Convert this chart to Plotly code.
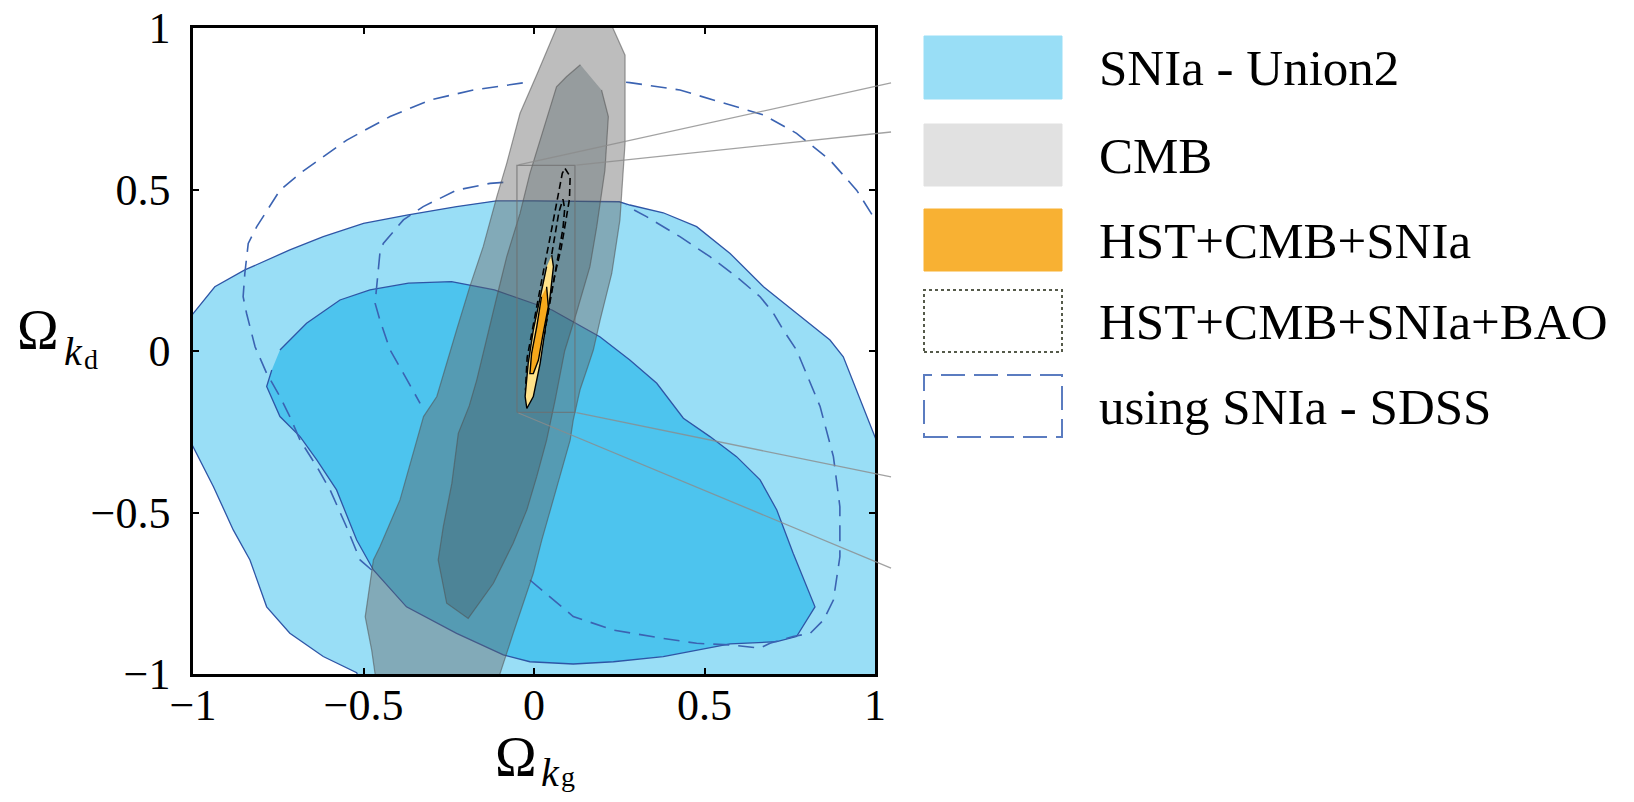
import plotly.graph_objects as go

# ---------------- data ----------------
x_ticks = [-1, -0.5, 0, 0.5, 1]
x_tick_labels = ["\u22121", "\u22120.5", "0", "0.5", "1"]
y_ticks = [-1, -0.5, 0, 0.5, 1]
y_tick_labels = ["\u22121", "\u22120.5", "0", "0.5", "1"]

legend_labels = ["SNIa - Union2", "CMB", "HST+CMB+SNIa", "HST+CMB+SNIa+BAO", "using SNIa - SDSS"]

# SNIa - Union2, 95% region (extends past the frame)
snia_outer_x = [-1.05, -1.0, -0.936, -0.848, -0.716, -0.618, -0.5, -0.373, -0.227, -0.11, 0.0, 0.25, 0.281,
                0.379, 0.477, 0.575, 0.673, 0.77, 0.868, 0.907, 0.946, 0.995, 1.05, 1.05, -0.5, -0.52,
                -0.618, -0.716, -0.784, -0.833, -0.882, -0.94, -1.0, -1.05]
snia_outer_y = [0.05, 0.117, 0.199, 0.251, 0.313, 0.354, 0.395, 0.421, 0.447, 0.465, 0.465, 0.462, 0.452,
                0.428, 0.385, 0.302, 0.199, 0.117, 0.034, -0.018, -0.121, -0.255, -0.4, -1.05, -1.05, -0.996,
                -0.946, -0.874, -0.792, -0.647, -0.554, -0.42, -0.296, -0.2]

# SNIa - Union2, 68% region
snia_inner_x = [-0.745, -0.667, -0.569, -0.481, -0.368, -0.242, -0.116, 0.053, 0.193, 0.281, 0.36, 0.438,
                0.516, 0.594, 0.663, 0.712, 0.76, 0.824, 0.77, 0.712, 0.575, 0.477, 0.379, 0.233, 0.115,
                -0.012, -0.09, -0.227, -0.374, -0.471, -0.52, -0.579, -0.637, -0.686, -0.745, -0.784, -0.769]
snia_inner_y = [0.003, 0.086, 0.158, 0.189, 0.21, 0.215, 0.189, 0.127, 0.044, -0.028, -0.1, -0.208,
                -0.265, -0.327, -0.399, -0.492, -0.626, -0.792, -0.884, -0.9, -0.907, -0.926, -0.946, -0.962,
                -0.969, -0.962, -0.941, -0.874, -0.792, -0.678, -0.585, -0.43, -0.337, -0.265, -0.203, -0.11,
                -0.059]

# SNIa - SDSS (dashed), visible parts only (None = hidden under the CMB band)
sdss_outer_x = [-0.476, -0.51, -0.55, -0.598, -0.637, -0.686, -0.716, -0.745, -0.784, -0.818, -0.843, -0.853,
                -0.848, -0.838, -0.813, -0.745, -0.686, -0.549, -0.422, -0.305, -0.178, -0.02, None,
                0.27, 0.281, 0.428, 0.526, 0.673, 0.77, 0.868, 0.946, 0.995, 1.05]
sdss_outer_y = [-0.678, -0.647, -0.544, -0.43, -0.358, -0.276, -0.203, -0.141, -0.069, 0.013, 0.117, 0.168,
                0.24, 0.333, 0.385, 0.498, 0.55, 0.653, 0.726, 0.777, 0.808, 0.832, None,
                0.832, 0.831, 0.808, 0.777, 0.731, 0.674, 0.591, 0.498, 0.416, 0.33]

sdss_inner_x = [-0.09, -0.129, -0.227, -0.325, -0.383, -0.442, -0.452, -0.461, -0.466, -0.452, -0.422, -0.383,
                -0.334, None,
                -0.012, 0.115, 0.233, 0.379, 0.477, 0.575, 0.663, 0.692, 0.76, 0.81, 0.849, 0.878, 0.897,
                0.897, 0.878, 0.839, 0.77, 0.731, 0.702, 0.663, 0.594, 0.516, 0.428, 0.33, 0.27]
sdss_inner_y = [0.522, 0.519, 0.498, 0.447, 0.406, 0.333, 0.302, 0.199, 0.148, 0.096, 0.003, -0.069,
                -0.162, None,
                -0.709, -0.822, -0.864, -0.89, -0.905, -0.91, -0.92, -0.905, -0.884, -0.874, -0.833, -0.771,
                -0.637, -0.482, -0.327, -0.172, 0.003, 0.065, 0.117, 0.168, 0.23, 0.292, 0.354, 0.416, 0.45]

# CMB, 95% region
cmb_outer_x = [0.05, 0.066, 0.01, -0.041, -0.08, -0.109, -0.149, -0.188, -0.227, -0.256, -0.285, -0.324,
               -0.393, -0.452, -0.471, -0.495, -0.476, -0.466, -0.46, -0.095, -0.1, -0.061, -0.002, 0.023,
               0.057, 0.106, 0.115, 0.135, 0.158, 0.174, 0.194, 0.228, 0.252, 0.267, 0.267, 0.233, 0.21]
cmb_outer_y = [1.05, 1.0, 0.86, 0.736, 0.581, 0.478, 0.323, 0.2, 0.065, -0.038, -0.141, -0.203,
               -0.461, -0.606, -0.647, -0.823, -0.926, -1.0, -1.05, -1.05, -1.0, -0.874, -0.688, -0.585,
               -0.461, -0.276, -0.214, -0.12, -0.048, 0.003, 0.096, 0.24, 0.406, 0.643, 0.916, 1.0, 1.05]

# CMB, 68% region
cmb_inner_x = [0.136, 0.095, 0.066, 0.018, -0.012, -0.041, -0.08, -0.109, -0.139, -0.168, -0.19, -0.222,
               -0.241, -0.266, -0.281, -0.256, -0.193, -0.119, -0.061, -0.021, 0.008, 0.037, 0.062, 0.09,
               0.125, 0.164, 0.184, 0.208, 0.218, 0.198]
cmb_inner_y = [0.886, 0.849, 0.818, 0.653, 0.55, 0.426, 0.292, 0.168, 0.034, -0.09, -0.17, -0.255,
               -0.41, -0.544, -0.647, -0.781, -0.828, -0.719, -0.595, -0.492, -0.389, -0.276, -0.152, 0.0,
               0.12, 0.261, 0.385, 0.56, 0.726, 0.808]

# HST+CMB+SNIa+BAO (dashed black)
bao_outer_x = [0.091, 0.106, 0.104, 0.093, 0.08, 0.062, 0.045, 0.03, 0.012, -0.01, -0.025, -0.02, -0.002,
               0.012, 0.03, 0.045, 0.06, 0.075, 0.083, 0.091]
bao_outer_y = [0.565, 0.54, 0.47, 0.4, 0.32, 0.24, 0.15, 0.05, -0.05, -0.13, -0.12, -0.02, 0.08,
               0.17, 0.26, 0.34, 0.42, 0.5, 0.55, 0.565]
bao_inner_x = [0.085, 0.09, 0.085, 0.072, 0.058, 0.045, 0.03, 0.02, 0.012, 0.02, 0.035, 0.05, 0.062, 0.073,
               0.085]
bao_inner_y = [0.47, 0.44, 0.38, 0.3, 0.22, 0.14, 0.05, 0.0, 0.01, 0.1, 0.19, 0.28, 0.36, 0.43, 0.47]

# HST+CMB+SNIa
hst_outer_x = [0.052, 0.057, 0.047, 0.032, 0.018, -0.002, -0.021, -0.026, -0.017, -0.002, 0.018, 0.037]
hst_outer_y = [0.297, 0.261, 0.168, 0.065, -0.038, -0.141, -0.178, -0.141, -0.038, 0.065, 0.168, 0.261]
hst_inner_x = [0.037, 0.042, 0.027, 0.013, -0.002, -0.012, -0.007, 0.008, 0.022]
hst_inner_y = [0.199, 0.137, 0.055, -0.028, -0.07, -0.07, -0.007, 0.075, 0.168]

# zoom box and its connector lines (to an inset outside the frame)
zoom_box_x = [-0.05, 0.12]
zoom_box_y = [-0.19, 0.575]
connector_start_x = [-0.05, 0.12, 0.12, -0.05]
connector_start_y = [0.575, 0.575, -0.19, -0.19]
connector_end_x = [1.047, 1.047, 1.047, 1.047]
connector_end_y = [0.83, 0.678, -0.39, -0.672]

# ---------------- styling ----------------
FONT = "Liberation Serif"
OFF = 8                      # page body margin offset of the figure div
W, H = 1634 - 2 * OFF, 802 - 2 * OFF
PL, PR, PT, PB = 193, 875, 28, 674  # plot area in screen pixels


def pxx(px):
    return (px - PL) / (PR - PL)


def pxy(py):
    return (PB - py) / (PB - PT)


LIGHT_BLUE = "#99DEF6"
MID_BLUE = "#4DC4EE"
EDGE_BLUE = "#2E55A6"
GRAY_FILL = "rgba(97,97,97,0.42)"
GRAY_FILL2 = "rgba(60,78,86,0.30)"
GRAY_EDGE = "rgba(80,80,80,0.55)"
DASH_BLUE = "#3B63B2"

fig = go.Figure()


def poly(x, y, fill, edge, width=1.3, dash=None):
    fig.add_trace(go.Scatter(
        x=x, y=y, mode="lines", fill="toself", fillcolor=fill,
        line=dict(color=edge, width=width, dash=dash),
        hoverinfo="skip", showlegend=False))


poly(snia_outer_x, snia_outer_y, LIGHT_BLUE, EDGE_BLUE)
poly(snia_inner_x, snia_inner_y, MID_BLUE, EDGE_BLUE)

for xs, ys in [(sdss_outer_x, sdss_outer_y), (sdss_inner_x, sdss_inner_y)]:
    fig.add_trace(go.Scatter(x=xs, y=ys, mode="lines", connectgaps=False,
                             line=dict(color=DASH_BLUE, width=1.6, dash="16px,9px"),
                             hoverinfo="skip", showlegend=False))

poly(cmb_outer_x, cmb_outer_y, GRAY_FILL, GRAY_EDGE, 1.2)
poly(cmb_inner_x, cmb_inner_y, GRAY_FILL2, GRAY_EDGE, 1.2)

# zoom box
fig.add_trace(go.Scatter(
    x=[zoom_box_x[0], zoom_box_x[1], zoom_box_x[1], zoom_box_x[0], zoom_box_x[0]],
    y=[zoom_box_y[0], zoom_box_y[0], zoom_box_y[1], zoom_box_y[1], zoom_box_y[0]],
    mode="lines", line=dict(color="rgba(110,110,110,0.7)", width=1.3),
    hoverinfo="skip", showlegend=False))

for xs, ys in [(bao_outer_x, bao_outer_y), (bao_inner_x, bao_inner_y)]:
    fig.add_trace(go.Scatter(x=xs, y=ys, mode="lines",
                             line=dict(color="black", width=1.6, dash="7px,4px"),
                             hoverinfo="skip", showlegend=False))

poly(hst_outer_x, hst_outer_y, "#FFE28A", "black", 1.4)
poly(hst_inner_x, hst_inner_y, "#F7A81B", "black", 1.4)

annotations = []
# connector lines drawn as plain arrows (tail at box corner, head outside frame)
for sx, sy, ex, ey in zip(connector_start_x, connector_start_y, connector_end_x, connector_end_y):
    annotations.append(dict(x=ex, y=ey, xref="x", yref="y", ax=sx, ay=sy, axref="x", ayref="y",
                            text="", showarrow=True, arrowhead=0, arrowwidth=1.3,
                            arrowcolor="rgba(140,140,140,0.8)", standoff=0, startstandoff=0))


def label(text, cx, cy, size):
    annotations.append(dict(text=text, x=pxx(cx), y=pxy(cy), xref="paper", yref="paper", showarrow=False,
                            font=dict(family=FONT, size=size, color="black"),
                            xanchor="center", yanchor="middle"))


# axis titles (Omega with nested subscripts)
label("\u03a9", 38, 330, 56)
label("<i>k</i>", 74, 351, 40)
label("d", 91, 360, 28)
label("\u03a9", 516, 757, 56)
label("<i>k</i>", 550, 772, 40)
label("g", 568, 776, 28)

# legend (manual, large swatches)
rows = [(36, 99), (124, 186), (209, 271), (290, 352), (375, 437)]
sw_x0, sw_x1 = 924, 1062
shapes = []
swatch_styles = [
    dict(fillcolor="#99DEF6", line=dict(color="#99DEF6", width=1)),
    dict(fillcolor="#E1E1E1", line=dict(color="#E1E1E1", width=1)),
    dict(fillcolor="#F8B133", line=dict(color="#F8B133", width=1)),
    dict(fillcolor="rgba(0,0,0,0)", line=dict(color="#555a4a", width=2, dash="dot")),
    dict(fillcolor="rgba(0,0,0,0)", line=dict(color="#5B7CC0", width=2, dash="24px,9px")),
]
for (r0, r1), st, lab in zip(rows, swatch_styles, legend_labels):
    shapes.append(dict(type="rect", xref="paper", yref="paper",
                       x0=pxx(sw_x0), x1=pxx(sw_x1), y0=pxy(r1), y1=pxy(r0), layer="above", **st))
    annotations.append(dict(text=lab, x=pxx(1097), y=pxy((r0 + r1) / 2 + 1), xref="paper", yref="paper",
                            showarrow=False, xanchor="left", yanchor="middle",
                            font=dict(family=FONT, size=51, color="black")))

axis_common = dict(
    range=[-1, 1], showgrid=False, zeroline=False, showline=True, linecolor="black", linewidth=2.5,
    mirror="allticks", ticks="inside", ticklen=6, tickwidth=1.6, tickcolor="black", automargin=False,
    ticklabeloverflow="allow",
    tickfont=dict(family=FONT, size=44, color="black"), fixedrange=True,
)

fig.update_layout(
    width=W, height=H,
    margin=dict(l=PL - OFF, r=W - (PR - OFF), t=PT - OFF, b=H - (PB - OFF), pad=0),
    paper_bgcolor="white", plot_bgcolor="white",
    xaxis=dict(tickvals=x_ticks, ticktext=x_tick_labels, ticklabelstandoff=-10, **axis_common),
    yaxis=dict(tickvals=y_ticks, ticktext=y_tick_labels, ticklabelstandoff=11, **axis_common),
    annotations=annotations, shapes=shapes, showlegend=False,
)

fig.write_html("out.html")
